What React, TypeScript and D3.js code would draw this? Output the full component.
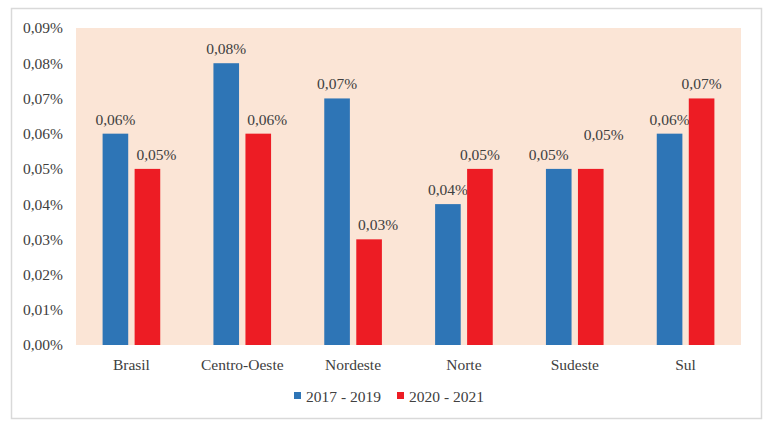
import React from "react";
import * as d3 from "d3";

const regions = ["Brasil", "Centro-Oeste", "Nordeste", "Norte", "Sudeste", "Sul"];
const seriesNames = ["2017 - 2019", "2020 - 2021"];
const values2017 = [0.06, 0.08, 0.07, 0.04, 0.05, 0.06];
const values2020 = [0.05, 0.06, 0.03, 0.05, 0.05, 0.07];
const yTicks = [0, 0.01, 0.02, 0.03, 0.04, 0.05, 0.06, 0.07, 0.08, 0.09];
const colors = ["#2E75B6", "#ED1C24"];

const fmt = (v: number) => v.toFixed(2).replace(".", ",") + "%";

export default function App() {
  const width = 771;
  const height = 429;
  const plot = { left: 76, right: 741, top: 28, bottom: 345 };
  const font = "Liberation Serif, DejaVu Serif, serif";
  const textColor = "#404040";
  const ts: React.CSSProperties = { fontFamily: font, fontSize: "15.5px" };

  const x0 = d3.scaleBand().domain(regions).range([plot.left, plot.right]);
  const bw = x0.bandwidth();
  const x1 = d3
    .scaleBand()
    .domain(seriesNames)
    .range([bw * 0.24, bw * 0.76])
    .paddingInner(0.2);
  const y = d3.scaleLinear().domain([0, 0.09]).range([plot.bottom, plot.top]);

  const series = [values2017, values2020];

  return (
    <svg
      width={width}
      height={height}
      style={{ position: "absolute", left: 0, top: 0, background: "#fff" }}
    >
      <rect x={11.5} y={8.5} width={750} height={410} fill="#fff" stroke="#D9D9D9" strokeWidth={1.5} />
      <rect
        x={plot.left}
        y={plot.top}
        width={plot.right - plot.left}
        height={plot.bottom - plot.top}
        fill="#FBE5D6"
      />
      {yTicks.map((t) => (
        <text
          key={t}
          x={63}
          y={y(t)}
          dy="0.35em"
          textAnchor="end"
          style={ts}
          fill={textColor}
        >
          {fmt(t)}
        </text>
      ))}
      {regions.map((r, i) => (
        <g key={r} transform={`translate(${x0(r)},0)`}>
          {seriesNames.map((s, k) => {
            const v = series[k][i];
            const bx = x1(s)!;
            const a = series[0][i];
            const b = series[1][i];
            // nudge labels so they stay clear of the neighbouring bar/label
            let dx = 0;
            let lift = 0;
            if (a === b) {
              dx = k === 0 ? -10 : 13;
              lift = k === 1 ? 20 : 0;
            } else if (k === 1 && b < a) {
              dx = 9;
            }
            return (
              <g key={s}>
                <rect
                  x={bx}
                  y={y(v)}
                  width={x1.bandwidth()}
                  height={plot.bottom - y(v)}
                  fill={colors[k]}
                />
                <text
                  x={bx + x1.bandwidth() / 2 + dx}
                  y={y(v) - 9 - lift}
                  textAnchor="middle"
                  style={ts}
                  fill={textColor}
                >
                  {fmt(v)}
                </text>
              </g>
            );
          })}
          <text
            x={bw / 2}
            y={370}
            textAnchor="middle"
            style={ts}
            fill={textColor}
          >
            {r}
          </text>
        </g>
      ))}
      {seriesNames.map((s, k) => {
        const lx = k === 0 ? 294 : 397;
        return (
          <g key={s}>
            <rect x={lx} y={392} width={7} height={7} fill={colors[k]} />
            <text x={lx + 12} y={402} style={ts} fill={textColor}>
              {s}
            </text>
          </g>
        );
      })}
    </svg>
  );
}
